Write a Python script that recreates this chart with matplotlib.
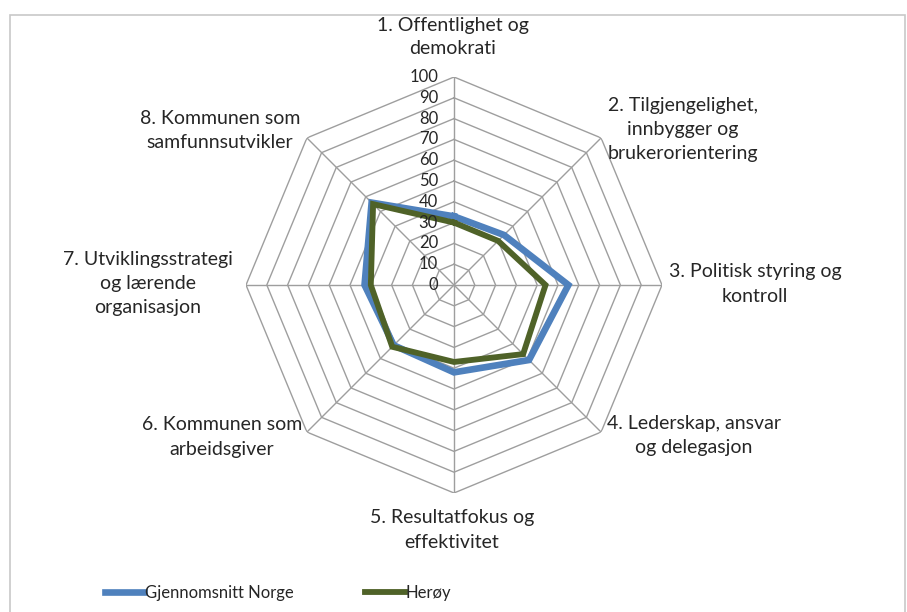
import numpy as np
import matplotlib
matplotlib.use('Agg')
import matplotlib.pyplot as plt
from matplotlib.patches import Rectangle

# Data
categories = ['1. Offentlighet og\ndemokrati',
              '2. Tilgjengelighet,\ninnbygger og\nbrukerorientering',
              '3. Politisk styring og\nkontroll',
              '4. Lederskap, ansvar\nog delegasjon',
              '5. Resultatfokus og\neffektivitet',
              '6. Kommunen som\narbeidsgiver',
              '7. Utviklingsstrategi\nog lærende\norganisasjon',
              '8. Kommunen som\nsamfunnsutvikler']
norge = [33, 34, 55, 51, 42, 41, 43, 56]
heroy = [30, 30, 44, 47, 37, 42, 40, 55]
ticks = [0, 10, 20, 30, 40, 50, 60, 70, 80, 90, 100]
series_names = ['Gjennomsnitt Norge', 'Herøy']

plt.rcParams['font.family'] = ['Lato', 'DejaVu Sans']

W, H = 907, 612
fig = plt.figure(figsize=(W / 100, H / 100), dpi=100)

# border of the chart area
fig.patches.append(Rectangle((10 / W, -0.01), 895 / W, 1 - 15 / H + 0.01,
                             transform=fig.transFigure, fill=False,
                             edgecolor='#c8c8c8', linewidth=1.2))

cx, cy, rad = 454, 285, 208
ax = fig.add_axes([(cx - rad) / W, 1 - (cy + rad) / H, 2 * rad / W, 2 * rad / H],
                  projection='polar')
ax.set_theta_zero_location('N')
ax.set_theta_direction(-1)
ax.set_ylim(0, 100)
ax.grid(False)
ax.spines['polar'].set_visible(False)
ax.set_xticks([])
ax.set_yticks([])
ax.patch.set_alpha(0)

n = len(categories)
angles = np.linspace(0, 2 * np.pi, n, endpoint=False)
closed = np.append(angles, angles[0])

# octagon grid
for t in ticks[1:]:
    ax.plot(closed, [t] * (n + 1), color='#9e9e9e', lw=1.0, zorder=1)
for a in angles:
    ax.plot([a, a], [0, 100], color='#9e9e9e', lw=1.0, zorder=1)

# tick labels along the top axis
for t in ticks:
    y = 1 - (cy - t / 100 * rad) / H
    fig.text((cx - 16) / W, y, str(t), ha='right', va='center',
             fontsize=12, color='#262626')

ax.plot(closed, norge + norge[:1], color='#4F81BD', lw=4.8, zorder=3,
        solid_joinstyle='miter', label=series_names[0])
ax.plot(closed, heroy + heroy[:1], color='#4F6228', lw=4.2, zorder=4,
        solid_joinstyle='miter', label=series_names[1])

# category labels
label_pos = [(453, 37), (683, 130), (755, 284), (694, 436),
             (452, 530), (222, 437), (148, 284), (220, 131)]
for lab, (x, y) in zip(categories, label_pos):
    fig.text(x / W, 1 - y / H, lab, ha='center', va='center',
             fontsize=14, color='#262626', linespacing=1.5)

leg = fig.legend(loc='center left', bbox_to_anchor=(90 / W, 1 - 593 / H),
                 ncol=2, frameon=False, fontsize=12, handlelength=2.35,
                 handletextpad=0.05, columnspacing=4.3)
for t in leg.get_texts():
    t.set_color('#262626')

fig.savefig('out.png', dpi=100)
